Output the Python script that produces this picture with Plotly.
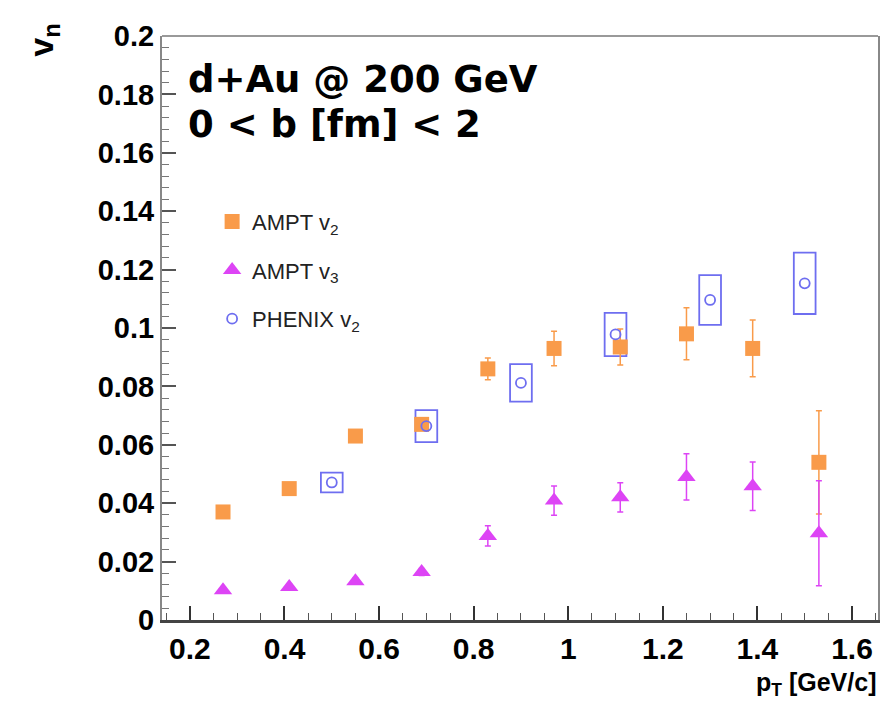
import plotly.graph_objects as go

# ---------------- data ----------------
pt = [0.27, 0.41, 0.55, 0.69, 0.83, 0.97, 1.11, 1.25, 1.39, 1.53]
ampt_v2 = [0.037, 0.045, 0.063, 0.067, 0.086, 0.093, 0.0935, 0.098, 0.093, 0.054]
ampt_v2_err = [0.001, 0.0012, 0.0015, 0.002, 0.0037, 0.0059, 0.0062, 0.0089, 0.0097, 0.0177]
ampt_v3 = [0.0102, 0.0113, 0.0133, 0.0164, 0.0288, 0.0409, 0.042, 0.049, 0.0458, 0.0297]
ampt_v3_err = [0.0008, 0.0009, 0.001, 0.0012, 0.0035, 0.005, 0.005, 0.0079, 0.0083, 0.018]
phenix_pt = [0.5, 0.7, 0.9, 1.1, 1.3, 1.5]
phenix_v2 = [0.0471, 0.0664, 0.0812, 0.0978, 0.1096, 0.1153]
phenix_sys = [0.0034, 0.0055, 0.0064, 0.0074, 0.0085, 0.0105]

x_ticks = [0.2, 0.4, 0.6, 0.8, 1.0, 1.2, 1.4, 1.6]
x_ticktext = ["0.2", "0.4", "0.6", "0.8", "1", "1.2", "1.4", "1.6"]
y_ticks = [0, 0.02, 0.04, 0.06, 0.08, 0.1, 0.12, 0.14, 0.16, 0.18, 0.2]
y_ticktext = ["0", "0.02", "0.04", "0.06", "0.08", "0.1", "0.12", "0.14", "0.16", "0.18", "0.2"]

# ---------------- style ----------------
ORANGE = "#F99B4A"
MAGENTA = "#DD44F5"
BLUE = "#6E6EF0"
FONT = "Liberation Sans"
WIDE = "DejaVu Sans"
BOX_HW = 0.023

fig = go.Figure()

fig.add_trace(go.Scatter(
    x=pt, y=ampt_v2, mode="markers", name="AMPT v<sub>2</sub>",
    legendgroup="a",
    marker=dict(symbol="square", size=15, color=ORANGE),
    error_y=dict(type="data", array=ampt_v2_err, color=ORANGE, thickness=1.5, width=3),
))
fig.add_trace(go.Scatter(
    x=pt, y=ampt_v3, mode="markers", name="AMPT v<sub>3</sub>",
    legendgroup="b",
    marker=dict(symbol="triangle-up", size=16, color=MAGENTA),
    error_y=dict(type="data", array=ampt_v3_err, color=MAGENTA, thickness=1.5, width=3),
))
fig.add_trace(go.Scatter(
    x=phenix_pt, y=phenix_v2, mode="markers", name="PHENIX v<sub>2</sub>",
    legendgroup="c",
    marker=dict(symbol="circle-open", size=10, color=BLUE, line=dict(width=1.8, color=BLUE)),
))

# systematic boxes for PHENIX
for xv, yv, sv in zip(phenix_pt, phenix_v2, phenix_sys):
    fig.add_shape(type="rect", xref="x", yref="y",
                  x0=xv - BOX_HW, x1=xv + BOX_HW, y0=yv - sv, y1=yv + sv,
                  line=dict(color=BLUE, width=1.8), fillcolor="rgba(0,0,0,0)",
                  layer="below")

# top frame line
fig.add_shape(type="line", xref="paper", yref="paper", x0=0, x1=1, y0=1, y1=1,
              line=dict(color="#999999", width=2))

fig.add_annotation(text="<b>d+Au @ 200 GeV</b>", xref="paper", yref="paper",
                   x=0.034, y=0.925, xanchor="left", yanchor="middle", showarrow=False,
                   font=dict(family=WIDE, size=37, color="black"))
fig.add_annotation(text="<b>0 < b [fm] < 2</b>", xref="paper", yref="paper",
                   x=0.034, y=0.849, xanchor="left", yanchor="middle", showarrow=False,
                   font=dict(family=WIDE, size=37, color="black"))

# axis titles
fig.add_annotation(text="<b>v<sub>n</sub></b>", xref="paper", yref="paper",
                   x=-0.165, y=1.025, xanchor="center", yanchor="top", textangle=-90,
                   showarrow=False, font=dict(family=FONT, size=34, color="black"))
fig.add_annotation(text="<b>p<sub>T</sub> [GeV/c]</b>", xref="paper", yref="paper",
                   x=1.0, y=-0.078, xanchor="right", yanchor="top",
                   showarrow=False, font=dict(family=FONT, size=25, color="black"))

fig.update_layout(
    width=892, height=703,
    margin=dict(l=154, r=22, t=21, b=91),
    paper_bgcolor="white", plot_bgcolor="white",
    showlegend=True,
    legend=dict(x=0.07, y=0.718, xanchor="left", yanchor="top",
                traceorder="grouped", tracegroupgap=17,
                font=dict(family=FONT, size=22, color="#222"),
                bgcolor="rgba(0,0,0,0)", itemwidth=30),
    xaxis=dict(range=[0.141, 1.655], tickvals=x_ticks, ticktext=x_ticktext,
               ticks="inside", ticklen=14, tickwidth=1.5, tickcolor="#333",
               minor=dict(dtick=0.05, ticks="inside", ticklen=7, tickwidth=1.2, tickcolor="#555"),
               showline=True, linecolor="#444", linewidth=2.5, mirror=False,
               showgrid=False, zeroline=False,
               tickfont=dict(family=FONT, size=30, color="black", weight="bold")),
    yaxis=dict(range=[0, 0.2], tickvals=y_ticks, ticktext=y_ticktext,
               ticks="inside", ticklen=14, tickwidth=1.5, tickcolor="#555",
               minor=dict(dtick=0.004, ticks="inside", ticklen=7, tickwidth=1.2, tickcolor="#777"),
               showline=True, linecolor="#888", linewidth=2, mirror=True,
               showgrid=False, zeroline=False,
               tickfont=dict(family=FONT, size=29, color="black", weight="bold")),
)

fig.write_html("out.html")
